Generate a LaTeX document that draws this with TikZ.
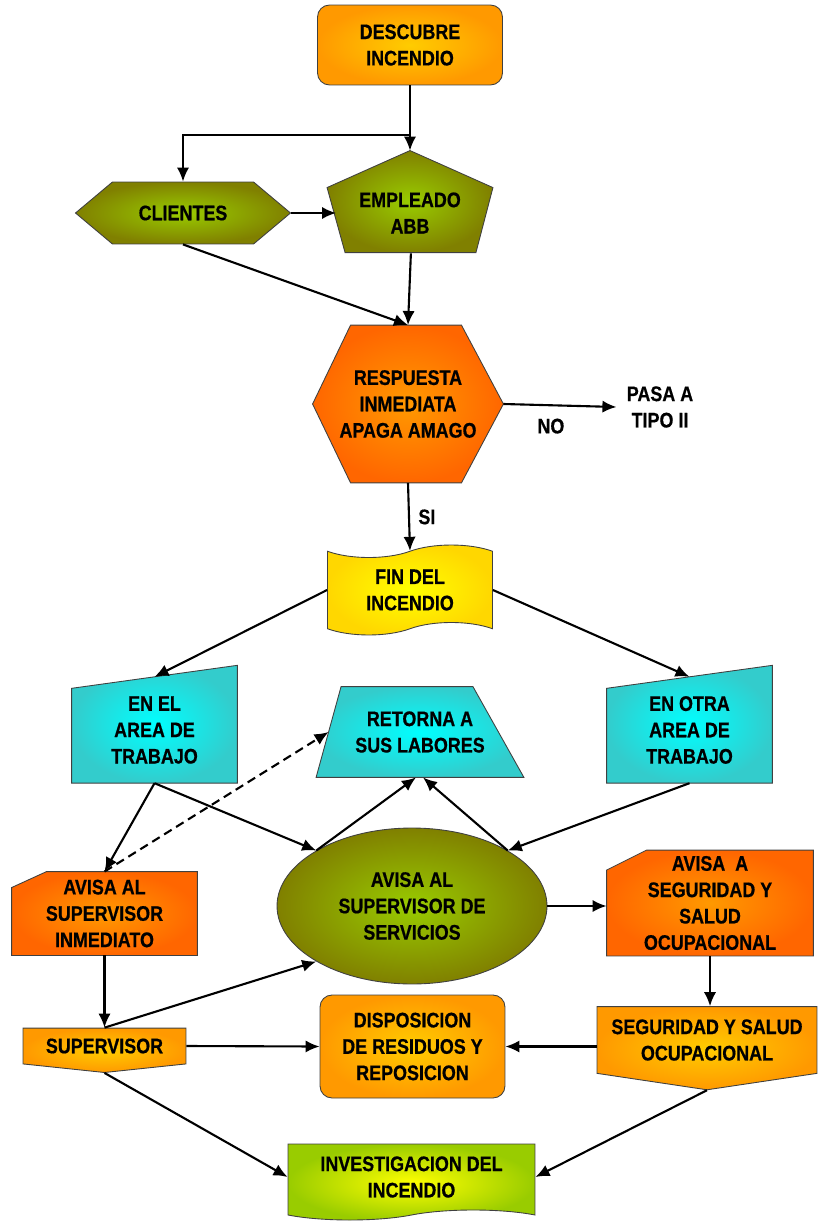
\documentclass[tikz,border=0pt]{standalone}
\usepackage{fontspec}
\setmainfont{Liberation Sans}[FakeStretch=0.85, BoldFeatures={FakeBold=0.6}]
\usepackage{tikz}
\usetikzlibrary{arrows.meta, positioning, calc, shapes.geometric, shapes.symbols,
                 backgrounds}
\definecolor{olivedark}{HTML}{808000}
\definecolor{olivelight}{HTML}{99CC00}
\definecolor{orangedark}{HTML}{FF6600}
\definecolor{orangemid}{HTML}{FF9900}
\definecolor{orangelight}{HTML}{FFCC00}
\definecolor{tealdark}{HTML}{33CCCC}
\definecolor{teallight}{HTML}{00FFFF}
\definecolor{yellowlight}{HTML}{FFFF00}
\definecolor{yellowmid}{HTML}{FFD700}
\definecolor{limegreen}{HTML}{99CC00}

\tikzset{
  box/.style={draw=black!75, line width=0.5pt, inner sep=0pt, align=center,
    font=\fontsize{12}{15}\selectfont\bfseries},
  textbox/.style={box, draw=none, rectangle},
  olivebox/.style={box, inner color=olivelight, outer color=olivedark},
  firebox/.style={box, inner color=orangemid, outer color=orangedark},
  amberbox/.style={box, inner color=orangelight, outer color=orangemid},
  tealbox/.style={box, inner color=teallight, outer color=tealdark},
  outline/.style={draw=black!75, line width=0.5pt},
  lbl/.style={font=\fontsize{12}{15}\selectfont\bfseries, align=center},
  arr/.style={-{Latex[length=8pt,width=7pt]}, line width=1.2pt},
}

\begin{document}
\begin{tikzpicture}[x=0.02cm, y=-0.02cm]
  \useasboundingbox (0,0) rectangle (819,1226);

  % top part
  \node[amberbox, rectangle, rounded corners=0.24cm, minimum width=3.7cm,
        minimum height=1.6cm] (descubre) at (410,45) {DESCUBRE\\INCENDIO};
  \node[olivebox, signal, signal to=west and east, signal pointer angle=80,
        minimum width=4.3cm, minimum height=1.24cm] (clientes) at (183,213) {CLIENTES};
  \node[textbox, minimum width=3.3cm, minimum height=2.48cm]
        (empleado) at (410,213) {EMPLEADO\\ABB};
  \node[textbox, minimum width=3.8cm, minimum height=3.14cm] (respuesta) at (408,404)
        {RESPUESTA\\INMEDIATA\\APAGA AMAGO};
  \node[lbl, inner sep=0.2cm] (pasa) at (660,407) {PASA A\\TIPO II};
  \node[box, tape, inner color=yellowlight, outer color=yellowmid,
        tape bend height=0.25cm, minimum width=3.3cm, minimum height=1.8cm]
        (fin) at (410,590) {FIN DEL\\INCENDIO};

  % middle part
  \node[textbox, minimum width=3.3cm, minimum height=2.11cm]
        (area1) at (154.5,730) {EN EL\\AREA DE\\TRABAJO};
  \node[textbox, minimum width=4.14cm, minimum height=1.8cm]
        (retorna) at (420,732) {RETORNA A\\SUS LABORES};
  \node[textbox, minimum width=3.3cm, minimum height=2.11cm]
        (area2) at (689.5,730) {EN OTRA\\AREA DE\\TRABAJO};
  \node[olivebox, ellipse, minimum width=5.4cm, minimum height=3.12cm]
        (servicios) at (412,906) {AVISA AL\\SUPERVISOR DE\\SERVICIOS};
  \node[textbox, minimum width=3.7cm, minimum height=1.66cm]
        (inmediato) at (104.5,913.5) {AVISA AL\\SUPERVISOR\\INMEDIATO};
  \node[textbox, minimum width=4.12cm, minimum height=2.1cm]
        (avisaseg) at (710,903) {AVISA\ \ A\\SEGURIDAD Y\\SALUD\\OCUPACIONAL};

  % bottom part
  \node[amberbox, signal, signal to=south, signal from=nowhere,
        signal pointer angle=168, minimum width=3.26cm, minimum height=0.84cm]
        (supervisor) at (104.5,1046) {SUPERVISOR};
  \node[amberbox, rectangle, rounded corners=0.24cm, minimum width=3.7cm,
        minimum height=2.06cm] (disposicion) at (412.5,1046.5)
        {DISPOSICION\\DE RESIDUOS Y\\REPOSICION};
  \node[amberbox, signal, signal to=south, signal from=nowhere,
        signal pointer angle=163, minimum width=4.4cm, minimum height=1.62cm]
        (segsalud) at (707,1040) {SEGURIDAD Y SALUD\\OCUPACIONAL};
  \node[box, tape, tape bend top=none, inner color=yellowlight, outer color=limegreen,
        tape bend height=0.2cm, minimum width=4.94cm, minimum height=1.52cm]
        (investigacion) at (411.5,1177) {INVESTIGACION DEL\\INCENDIO};

  % shapes drawn behind the text-only nodes
  \begin{scope}[on background layer]
    \shadedraw[outline, inner color=olivelight, outer color=olivedark]
      (empleado.north) -- ($(empleado.north east)+(0,37)$)
      -- ($(empleado.north east)+(-17,102)$) -- ($(empleado.north west)+(18,102)$)
      -- ($(empleado.north west)+(0,37)$) -- cycle;
    \shadedraw[outline, inner color=orangemid, outer color=orangedark]
      (respuesta.west) -- ($(respuesta.north west)+(38,0)$)
      -- ($(respuesta.north east)+(-42,0)$) -- (respuesta.east)
      -- ($(respuesta.south east)+(-42,0)$) -- ($(respuesta.south west)+(38,0)$) -- cycle;
    \shadedraw[outline, inner color=teallight, outer color=tealdark]
      (area1.south west) -- (area1.south east) -- ($(area1.north east)+(0,-11.5)$)
      -- ($(area1.north west)+(0,11.5)$) -- cycle;
    \shadedraw[outline, inner color=teallight, outer color=tealdark]
      (area2.south west) -- (area2.south east) -- ($(area2.north east)+(0,-11.5)$)
      -- ($(area2.north west)+(0,11.5)$) -- cycle;
    \shadedraw[outline, inner color=teallight, outer color=tealdark]
      (retorna.south west) -- (retorna.south east) -- ($(retorna.north east)+(-51,0)$)
      -- ($(retorna.north west)+(25,0)$) -- cycle;
    \shadedraw[outline, inner color=orangemid, outer color=orangedark]
      (inmediato.south west) -- (inmediato.south east) -- (inmediato.north east)
      -- ($(inmediato.north west)+(35,0)$) -- ($(inmediato.north west)+(0,16)$) -- cycle;
    \shadedraw[outline, inner color=orangemid, outer color=orangedark]
      (avisaseg.south west) -- (avisaseg.south east) -- (avisaseg.north east)
      -- ($(avisaseg.north west)+(40,0)$) -- ($(avisaseg.north west)+(0,20)$) -- cycle;
  \end{scope}

  % connectors
  \coordinate (split) at ($(descubre.south)+(0,50)$);
  \draw[arr] (descubre.south) -- (empleado.north);
  \draw[arr] (split) -| (clientes.north);
  \draw[arr, shorten >=-0.18cm] (clientes.east) -- (empleado.west);
  \draw[arr] (clientes.south) -- (respuesta.north);
  \draw[arr, shorten <=-0.44cm] (empleado.south) -- (respuesta.north);
  \draw[arr] (respuesta.east) -- node[lbl, pos=0.42, below=0.13cm] {NO} (pasa.west);
  \draw[arr] (respuesta.south) -- node[lbl, right=0.05cm] {SI} (fin.north);

  \draw[arr] (fin.west) -- (area1.north);
  \draw[arr] (fin.east) -- (area2.north);
  \draw[arr] (area1.south) -- (inmediato.north);
  \draw[arr] (area1.south) -- (servicios.north west);
  \draw[arr, dash pattern=on 5pt off 3pt] (inmediato.north) -- ([xshift=0.25cm]retorna.west);
  \draw[arr] (servicios.north west) -- ([xshift=-0.08cm]retorna.south);
  \draw[arr] (servicios.north east) -- ([xshift=0.06cm]retorna.south);
  \draw[arr] (area2.south) -- (servicios.north east);

  \draw[arr] (inmediato.south) -- (supervisor.north);
  \draw[arr] (supervisor.north) -- (servicios.south west);
  \draw[arr] (servicios.east) -- (servicios.east -| avisaseg.west);
  \draw[arr] (avisaseg.south) -- (avisaseg.south |- segsalud.north);
  \draw[arr] (supervisor.east) -- (disposicion.west);
  \draw[arr] (segsalud.west |- disposicion.east) -- (disposicion.east);
  \draw[arr] (supervisor.south) -- (investigacion.west);
  \draw[arr] (segsalud.south) -- (investigacion.east);
\end{tikzpicture}
\end{document}
